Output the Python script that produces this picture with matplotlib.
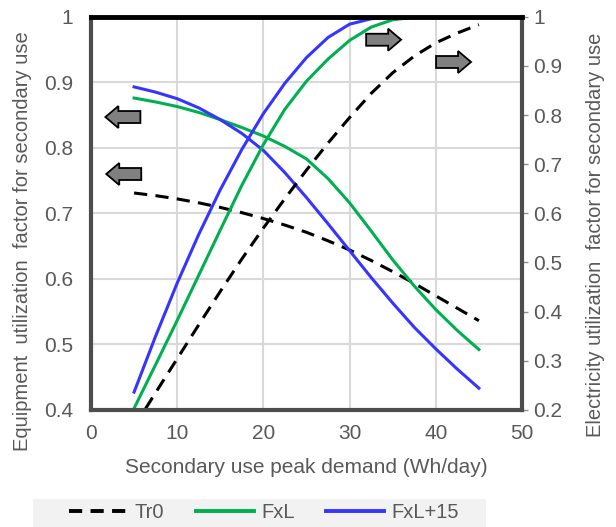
import matplotlib
matplotlib.use("Agg")
import matplotlib.pyplot as plt
from matplotlib.patches import Polygon, Rectangle
from matplotlib.lines import Line2D
from matplotlib.transforms import ScaledTranslation

plt.rcParams['font.family'] = ['Liberation Sans', 'DejaVu Sans']
plt.rcParams['lines.scale_dashes'] = False

# secondary use peak demand (Wh/day)
demand = [5, 7.5, 10, 12.5, 15, 17.5, 20, 22.5, 25, 27.5, 30, 32.5, 35, 37.5, 40, 42.5, 45]

# equipment utilization factor (left axis)
equip_tr0 = [0.731, 0.727, 0.722, 0.716, 0.709, 0.701, 0.692, 0.682, 0.671, 0.658,
             0.644, 0.628, 0.611, 0.593, 0.574, 0.555, 0.536]
equip_fxl = [0.876, 0.870, 0.863, 0.854, 0.843, 0.831, 0.818, 0.802, 0.783, 0.753,
             0.716, 0.673, 0.629, 0.589, 0.553, 0.521, 0.492]
equip_fxl15 = [0.893, 0.885, 0.875, 0.861, 0.843, 0.822, 0.796, 0.762, 0.724, 0.684,
               0.643, 0.602, 0.563, 0.526, 0.493, 0.462, 0.433]

# electricity utilization factor (right axis)
elec_tr0 = [0.165, 0.235, 0.304, 0.373, 0.441, 0.507, 0.570, 0.630, 0.688, 0.743,
            0.795, 0.844, 0.886, 0.920, 0.947, 0.967, 0.984]
elec_fxl = [0.203, 0.292, 0.382, 0.474, 0.566, 0.657, 0.740, 0.812, 0.869, 0.914,
            0.952, 0.979, 0.994, 0.999, 1.0, 1.0, 1.0]
elec_fxl15 = [0.236, 0.350, 0.458, 0.557, 0.648, 0.730, 0.803, 0.865, 0.917, 0.958,
              0.985, 0.996, 0.999, 1.0, 1.0, 1.0, 1.0]

names = ['Tr0', 'FxL', 'FxL+15']
colors = ['black', '#00b050', '#3535ff']
styles = [(0, (9.5, 6)), '-', '-']

grey = '#595959'
fig = plt.figure(figsize=(6.16, 5.27), dpi=100)
ax = fig.add_axes([0.1477, 0.2224, 0.6997, 0.7457])
ax2 = ax.twinx()

ax.set_xlim(0, 50)
ax.set_ylim(0.4, 1.0)
ax2.set_ylim(0.2, 1.0)
ax.set_xticks([0, 10, 20, 30, 40, 50])
ax.set_yticks([0.4, 0.5, 0.6, 0.7, 0.8, 0.9, 1.0])
ax.set_yticklabels(['0.4', '0.5', '0.6', '0.7', '0.8', '0.9', '1'])
ax2.set_yticks([0.2, 0.3, 0.4, 0.5, 0.6, 0.7, 0.8, 0.9, 1.0])
ax2.set_yticklabels(['0.2', '0.3', '0.4', '0.5', '0.6', '0.7', '0.8', '0.9', '1'])
ax.grid(True, color='#d9d9d9', lw=1.5)
ax.set_axisbelow(True)

ax.tick_params(axis='x', length=0, labelsize=15, labelcolor=grey, pad=10)
ax.tick_params(axis='y', length=0, labelsize=15, labelcolor=grey, pad=13)
ax2.tick_params(axis='y', length=4, width=1, color='#909090', labelsize=15,
                labelcolor=grey, pad=4)

for s in ax.spines.values():
    s.set_visible(False)
for side in ['left', 'bottom', 'right']:
    ax2.spines[side].set_color('#4d4d4d')
    ax2.spines[side].set_linewidth(3)
ax2.spines['top'].set_color('black')
ax2.spines['top'].set_linewidth(3.5)

equip = [equip_tr0, equip_fxl, equip_fxl15]
elec = [elec_tr0, elec_fxl, elec_fxl15]
for i in range(3):
    ax.plot(demand, equip[i], color=colors[i], ls=styles[i], lw=2.2)
    ax2.plot(demand, elec[i], color=colors[i], ls=styles[i], lw=2.2)

ax.set_xlabel('Secondary use peak demand (Wh/day)', fontsize=15, color=grey, labelpad=11)
ax.set_ylabel('Equipment  utilization  factor for secondary use', fontsize=14.5, color=grey)
ax2.set_ylabel('Electricity utilization  factor for secondary use', fontsize=14.5, color=grey)
ax.yaxis.set_label_coords(-0.137, 0.43)
ax2.yaxis.set_label_coords(1.148, 0.445)


# block arrows pointing to the axis each curve belongs to (positions in left-axis units)
def block_arrow(x, y, direction):
    d = direction
    pts = [(-0.175 * d, 0), (-0.045 * d, 0.11), (-0.045 * d, 0.06), (0.175 * d, 0.06),
           (0.175 * d, -0.06), (-0.045 * d, -0.06), (-0.045 * d, -0.11)]
    tr = fig.dpi_scale_trans + ScaledTranslation(x, y, ax.transData)
    ax2.add_patch(Polygon(pts, closed=True, transform=tr, facecolor='#808080',
                          edgecolor='black', lw=1.3, zorder=5, clip_on=False))


block_arrow(3.7, 0.847, 1)
block_arrow(3.8, 0.760, 1)
block_arrow(33.95, 0.965, -1)
block_arrow(42.06, 0.931, -1)

# legend strip
fig.patches.append(Rectangle((33 / 616, 0), 453 / 616, 28 / 527, transform=fig.transFigure,
                             facecolor='#f2f2f2', edgecolor='none', zorder=0))
handles = [Line2D([], [], color=colors[i], ls=styles[i], lw=2.8) for i in range(3)]
leg = fig.legend(handles, names, loc='center', bbox_to_anchor=(0.4286, 0.0266),
                 ncol=3, fontsize=14.5, frameon=False, handlelength=2.9,
                 handletextpad=0.35, columnspacing=1.55, borderpad=0)
for t in leg.get_texts():
    t.set_color(grey)

fig.savefig('out.png', dpi=100)
